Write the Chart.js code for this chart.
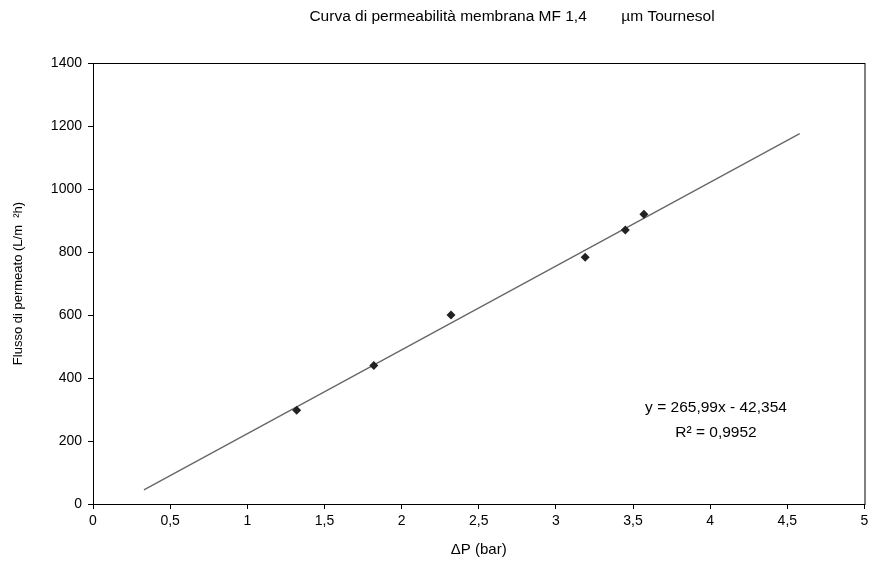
<!DOCTYPE html>
<html>
<head>
<meta charset="utf-8">
<script src="https://cdn.jsdelivr.net/npm/chart.js@4.4.1/dist/chart.umd.min.js"></script>
<style>
  html, body { margin: 0; padding: 0; background: #fff; }
</style>
</head>
<body>
<canvas id="myChart" width="869" height="563"></canvas>
<script>
// measured points (ΔP in bar, flux in L/m2h)
const pressure = [1.32, 1.82, 2.32, 3.19, 3.45, 3.57];
const flux = [298, 440, 600, 783, 870, 920];

// trendline ends as drawn in the picture
const trendX = [0.33, 4.58];
const trendY = [45, 1176];

const xTicks = [0, 0.5, 1, 1.5, 2, 2.5, 3, 3.5, 4, 4.5, 5];
const yTicks = [0, 200, 400, 600, 800, 1000, 1200, 1400];

const titleText = 'Curva di permeabilità membrana MF 1,4        µm Tournesol';
const equationText = 'y = 265,99x - 42,354';
const r2Text = 'R² = 0,9952';

const FONT = '"Liberation Sans", Arial, sans-serif';

const extras = {
    id: 'extras',
    beforeDraw(chart) {
        const c = chart.ctx;
        c.save();
        c.fillStyle = '#fff';
        c.fillRect(0, 0, chart.width, chart.height);
        c.restore();
    },
    afterDraw(chart) {
        const c = chart.ctx;
        const a = chart.chartArea;
        c.save();
        c.strokeStyle = '#000';
        c.lineWidth = 1;
        c.strokeRect(a.left + 0.5, a.top + 0.5, a.right - a.left, a.bottom - a.top);

        c.fillStyle = '#000';
        c.font = '15.5px ' + FONT;
        c.textAlign = 'center';
        c.textBaseline = 'middle';
        c.fillText(titleText, 512, 17);

        c.font = '15.5px ' + FONT;
        c.fillText(equationText, 716, 408);
        c.fillText(r2Text, 716, 433);
        c.restore();
    }
};

const ctx = document.getElementById('myChart').getContext('2d');
new Chart(ctx, {
    type: 'scatter',
    data: {
        datasets: [{
            label: 'Flusso',
            data: pressure.map((x, i) => ({ x: x, y: flux[i] })),
            pointStyle: 'rectRot',
            pointRadius: 4.5,
            backgroundColor: '#222',
            borderColor: '#222',
            borderWidth: 0
        }, {
            label: 'Lineare',
            data: trendX.map((x, i) => ({ x: x, y: trendY[i] })),
            showLine: true,
            pointRadius: 0,
            borderColor: '#666',
            borderWidth: 1.3
        }]
    },
    options: {
        responsive: false,
        animation: false,
        layout: { padding: { top: 63, right: 0, left: 7, bottom: 0 } },
        plugins: {
            legend: { display: false },
            tooltip: { enabled: false }
        },
        scales: {
            x: {
                type: 'linear',
                min: 0,
                max: 5,
                afterBuildTicks: axis => { axis.ticks = xTicks.map(v => ({ value: v })); },
                afterFit: axis => { axis.height = 59; axis.paddingRight = 4; axis.paddingLeft = 0; },
                ticks: {
                    color: '#000',
                    font: { family: FONT, size: 14 },
                    padding: 4,
                    maxRotation: 0,
                    callback: v => String(v).replace('.', ',')
                },
                grid: { drawOnChartArea: false, color: '#000', tickLength: 5 },
                border: { color: '#000' },
                title: {
                    display: true,
                    text: 'ΔP (bar)',
                    color: '#000',
                    font: { family: FONT, size: 15 },
                    padding: { top: 2 }
                }
            },
            y: {
                type: 'linear',
                min: 0,
                max: 1400,
                afterBuildTicks: axis => { axis.ticks = yTicks.map(v => ({ value: v })); },
                afterFit: axis => { axis.width = 86; },
                ticks: {
                    color: '#000',
                    font: { family: FONT, size: 14 },
                    padding: 6,
                    callback: v => String(v)
                },
                grid: { drawOnChartArea: false, color: '#000', tickLength: 5 },
                border: { color: '#000' },
                title: {
                    display: true,
                    text: 'Flusso di permeato (L/m  ²h)',
                    color: '#000',
                    font: { family: FONT, size: 13 },
                    padding: { bottom: 6 }
                }
            }
        }
    },
    plugins: [extras]
});
</script>
</body>
</html>
